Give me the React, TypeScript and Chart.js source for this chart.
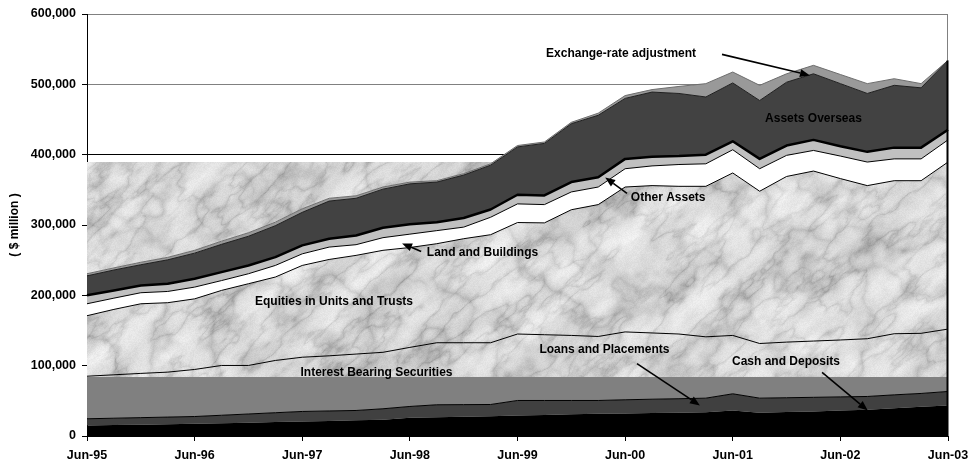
import React, { useEffect, useRef } from "react";
import { Chart, registerables } from "chart.js";

Chart.register(...registerables);

// ---------- DATA ($ million, quarterly) ----------
const quarters = [
  "Jun-95", "Sep-95", "Dec-95", "Mar-96", "Jun-96", "Sep-96", "Dec-96", "Mar-97",
  "Jun-97", "Sep-97", "Dec-97", "Mar-98", "Jun-98", "Sep-98", "Dec-98", "Mar-99",
  "Jun-99", "Sep-99", "Dec-99", "Mar-00", "Jun-00", "Sep-00", "Dec-00", "Mar-01",
  "Jun-01", "Sep-01", "Dec-01", "Mar-02", "Jun-02", "Sep-02", "Dec-02", "Mar-03",
  "Jun-03",
];

const cashDeposits = [15000, 15500, 16000, 16700, 17300, 18000, 19000, 19800, 20600, 21500, 22300, 23000, 25900, 26800, 27500, 28200, 29200, 30000, 30800, 31600, 32000, 32600, 33200, 33900, 36300, 33000, 34000, 35000, 36200, 37300, 39500, 41500, 43400];
const loansPlacements = [9500, 9800, 10100, 10200, 10400, 11500, 12300, 13300, 14300, 14100, 14000, 15700, 16100, 17600, 17100, 16600, 21300, 20500, 19700, 18900, 19500, 19700, 19800, 19900, 23700, 20800, 20400, 20000, 19400, 18900, 19000, 19000, 19900];
const interestBearing = [60500, 61700, 62900, 63900, 66900, 70800, 69000, 74300, 77100, 78400, 80200, 80300, 84000, 88200, 88000, 87800, 94500, 93500, 92500, 91000, 96500, 94200, 92000, 87200, 83000, 77700, 79100, 80000, 80900, 82100, 86900, 85500, 88700];
const equitiesUnitsTrusts = [86000, 93000, 99000, 98700, 100400, 106700, 116200, 118600, 130500, 137000, 140300, 145000, 142000, 140800, 147900, 153600, 158500, 159000, 178700, 187500, 206000, 209500, 210000, 214000, 231000, 216500, 235500, 241700, 229500, 217700, 217600, 217000, 237500];
const landBuildings = [17000, 16000, 15700, 16000, 16700, 14000, 14200, 16500, 16500, 17600, 15200, 18000, 19000, 18600, 16500, 24800, 26500, 26000, 25300, 25000, 26000, 28000, 31000, 32000, 33000, 32000, 30000, 29300, 32000, 33500, 31000, 31000, 31500];
const otherAssets = [12000, 11000, 10300, 11000, 11900, 12000, 11800, 11800, 12000, 11900, 13000, 14000, 14000, 12000, 13000, 11000, 13000, 13000, 14000, 14000, 14000, 13000, 12000, 13000, 12000, 14000, 14000, 15000, 14000, 14500, 16000, 16000, 14500];
const assetsOverseas = [27700, 29000, 29500, 34000, 36400, 39500, 41500, 44700, 47000, 53500, 53000, 55000, 57500, 57000, 61000, 63000, 68000, 74000, 83000, 88000, 86000, 92000, 89000, 82000, 83000, 83000, 90000, 94000, 89000, 83000, 88600, 85000, 98500];
const exchangeRateAdj = [3000, 3000, 3500, 3500, 4000, 4500, 5000, 5000, 5000, 4000, 3500, 3000, 2500, 2000, 2000, 2000, 2000, 2000, 2000, 3000, 4000, 3500, 10000, 19000, 15500, 21600, 12000, 12000, 13000, 14000, 9400, 6000, 0];

const yTicks = [0, 100000, 200000, 300000, 400000, 500000, 600000];
const yTitle = "( $ million )";

// ---------- STYLE ----------
const FONT = '"Liberation Sans", Arial, Helvetica, sans-serif';
const MARBLE_BOTTOM = 84000;
const MARBLE_TOP = 390000;

const seriesStyles = [
  { name: "Cash and Deposits", data: cashDeposits, fill: "#000000", line: "#000000", width: 0 },
  { name: "Loans and Placements", data: loansPlacements, fill: "#404040", line: "#000000", width: 1 },
  { name: "Interest Bearing Securities", data: interestBearing, fill: "#808080", line: "#000000", width: 1 },
  { name: "Equities in Units and Trusts", data: equitiesUnitsTrusts, fill: "rgba(0,0,0,0)", line: "#000000", width: 1 },
  { name: "Land and Buildings", data: landBuildings, fill: "#ffffff", line: "#000000", width: 1 },
  { name: "Other Assets", data: otherAssets, fill: "#c0c0c0", line: "#000000", width: 2.5 },
  { name: "Assets Overseas", data: assetsOverseas, fill: "#424242", line: "#202020", width: 1 },
  { name: "Exchange-rate adjustment", data: exchangeRateAdj, fill: "#999999", line: "#6e6e6e", width: 1 },
];
const EQ_INDEX = 3;
const TOP_INDEX = 7;

// annotations: [quarter index, value]
const annotations: { text: string; at: [number, number]; arrow?: [number, number][]; }[] = [
  { text: "Exchange-rate adjustment", at: [19.85, 544000], arrow: [[23.6, 542600], [26.87, 512700]] },
  { text: "Assets Overseas", at: [27.0, 451600] },
  { text: "Other Assets", at: [21.6, 339300], arrow: [[20.07, 345000], [19.26, 367700]] },
  { text: "Land and Buildings", at: [14.7, 261000], arrow: [[12.42, 262400], [11.71, 273800]] },
  { text: "Equities in Units and Trusts", at: [9.18, 191300] },
  { text: "Interest Bearing Securities", at: [10.76, 90300] },
  { text: "Loans and Placements", at: [19.23, 123000], arrow: [[20.44, 103000], [22.78, 43400]] },
  { text: "Cash and Deposits", at: [25.98, 106000], arrow: [[27.32, 90300], [29.02, 36300]] },
];

// ---------- marble texture (deterministic procedural noise) ----------
function hash2(ix: number, iy: number) {
  let h = Math.imul(ix, 374761393) ^ Math.imul(iy, 668265263);
  h = Math.imul(h ^ (h >>> 13), 1274126177);
  h ^= h >>> 16;
  return (h >>> 0) / 4294967296;
}
function vnoise(x: number, y: number) {
  const ix = Math.floor(x), iy = Math.floor(y);
  const fx = x - ix, fy = y - iy;
  const sx = fx * fx * (3 - 2 * fx), sy = fy * fy * (3 - 2 * fy);
  const a = hash2(ix, iy), b = hash2(ix + 1, iy), c = hash2(ix, iy + 1), d = hash2(ix + 1, iy + 1);
  return a + (b - a) * sx + (c - a) * sy + (a - b - c + d) * sx * sy;
}
function fbm(x: number, y: number, oct: number) {
  let s = 0, amp = 0.5, f = 1, norm = 0;
  for (let i = 0; i < oct; i++) {
    s += amp * vnoise(x * f + i * 17.3, y * f + i * 9.1);
    norm += amp; amp *= 0.5; f *= 2;
  }
  return s / norm;
}
let marbleCache: HTMLCanvasElement | null = null;
function getMarble(w: number, h: number) {
  if (marbleCache && marbleCache.width === w && marbleCache.height === h) return marbleCache;
  const raw = document.createElement("canvas");
  raw.width = w; raw.height = h;
  const g = raw.getContext("2d")!;
  const img = g.createImageData(w, h);
  for (let y = 0; y < h; y++) {
    for (let x = 0; x < w; x++) {
      const u = x * 0.75 - y * 0.66;
      const q = x * 0.66 + y * 0.75;
      const mott = fbm(u / 60 + 11, q / 22 + 5, 5);
      const r1 = fbm(x / 50 + 300, y / 50 + 70, 4);
      const ridge1 = Math.pow(1 - Math.abs(2 * r1 - 1), 7);
      const r2 = fbm(u / 40 + 40, q / 16 + 90, 4);
      const ridge2 = Math.pow(1 - Math.abs(2 * r2 - 1), 9);
      const speck = hash2(x * 3 + 7, y * 5 + 11) - 0.5;
      let v = 252 - 50 * mott - 30 * ridge1 * (0.5 + r2) - 28 * ridge2 * (0.5 + mott) + speck * 10;
      v = Math.max(150, Math.min(252, v));
      const k = (y * w + x) * 4;
      img.data[k] = v; img.data[k + 1] = v; img.data[k + 2] = v; img.data[k + 3] = 255;
    }
  }
  g.putImageData(img, 0, 0);
  const c = document.createElement("canvas");
  c.width = w; c.height = h;
  const g2 = c.getContext("2d")!;
  g2.fillStyle = "#e6e6e6";
  g2.fillRect(0, 0, w, h);
  g2.filter = "blur(0.7px)";
  g2.drawImage(raw, 0, 0);
  marbleCache = c;
  return c;
}

const fmt = (v: number) => String(v).replace(/\B(?=(\d{3})+(?!\d))/g, ",");

export default function App() {
  const ref = useRef<HTMLCanvasElement>(null);

  useEffect(() => {
    document.body.style.margin = "0";
    const cumulative: number[][] = [];
    seriesStyles.forEach((s, si) => {
      cumulative.push(s.data.map((v, i) => v + (si > 0 ? cumulative[si - 1][i] : 0)));
    });

    const datasets = seriesStyles.map((s, si) => ({
      label: s.name,
      data: cumulative[si],
      backgroundColor: s.fill,
      borderColor: s.line,
      borderWidth: s.width,
      fill: si === 0 ? "origin" : si === EQ_INDEX ? false : "-1",
      pointRadius: 0,
      pointHoverRadius: 0,
      tension: 0,
      borderJoinStyle: "round" as const,
    }));

    const marblePlugin = {
      id: "marble",
      beforeDatasetsDraw(chart: any) {
        const { ctx, chartArea: a, scales } = chart;
        const top = Math.round(scales.y.getPixelForValue(MARBLE_TOP));
        const bottom = Math.round(scales.y.getPixelForValue(MARBLE_BOTTOM));
        const w = Math.round(a.right - a.left);
        const eq = chart.getDatasetMeta(EQ_INDEX).data;
        const tp = chart.getDatasetMeta(TOP_INDEX).data;
        ctx.save();
        ctx.beginPath();
        ctx.rect(a.left, top, w, bottom - top);
        ctx.clip();
        ctx.beginPath();
        ctx.rect(a.left - 5, a.top - 5, w + 10, a.bottom - a.top + 10);
        eq.forEach((p: any, i: number) => (i ? ctx.lineTo(p.x, p.y) : ctx.moveTo(p.x, p.y)));
        for (let i = tp.length - 1; i >= 0; i--) ctx.lineTo(tp[i].x, tp[i].y);
        ctx.closePath();
        ctx.clip("evenodd");
        ctx.drawImage(getMarble(w, bottom - top), a.left, top);
        ctx.restore();
      },
    };

    const overlayPlugin = {
      id: "overlay",
      afterDatasetsDraw(chart: any) {
        const { ctx, chartArea: a, scales } = chart;
        const tp = chart.getDatasetMeta(TOP_INDEX).data;
        const last = tp[tp.length - 1];
        const rx = Math.round(a.right) - 0.5;
        ctx.save();
        ctx.lineWidth = 1;
        ctx.strokeStyle = "#808080";
        ctx.beginPath(); ctx.moveTo(rx, a.top); ctx.lineTo(rx, last.y); ctx.stroke();
        ctx.lineWidth = 2;
        ctx.strokeStyle = "#000";
        ctx.beginPath(); ctx.moveTo(rx, last.y); ctx.lineTo(rx, a.bottom); ctx.stroke();

        // annotations
        ctx.font = `bold 12px ${FONT}`;
        ctx.fillStyle = "#000";
        ctx.textAlign = "center";
        ctx.textBaseline = "middle";
        for (const an of annotations) {
          ctx.fillText(an.text, scales.x.getPixelForValue(an.at[0]), scales.y.getPixelForValue(an.at[1]));
          if (an.arrow) {
            const x1 = scales.x.getPixelForValue(an.arrow[0][0]);
            const y1 = scales.y.getPixelForValue(an.arrow[0][1]);
            const x2 = scales.x.getPixelForValue(an.arrow[1][0]);
            const y2 = scales.y.getPixelForValue(an.arrow[1][1]);
            const ang = Math.atan2(y2 - y1, x2 - x1);
            const hl = 10, hw = 4;
            const bx = x2 - hl * Math.cos(ang), by = y2 - hl * Math.sin(ang);
            ctx.strokeStyle = "#000";
            ctx.lineWidth = 1.6;
            ctx.beginPath(); ctx.moveTo(x1, y1); ctx.lineTo(bx, by); ctx.stroke();
            ctx.beginPath();
            ctx.moveTo(x2, y2);
            ctx.lineTo(bx + hw * Math.sin(ang), by - hw * Math.cos(ang));
            ctx.lineTo(bx - hw * Math.sin(ang), by + hw * Math.cos(ang));
            ctx.closePath();
            ctx.fill();
          }
        }
        ctx.restore();
      },
    };

    Chart.defaults.font.family = FONT;
    Chart.defaults.font.weight = "bold" as any;
    Chart.defaults.font.size = 12;
    Chart.defaults.color = "#000";

    const chart = new Chart(ref.current!, {
      type: "line",
      data: { labels: quarters, datasets: datasets as any },
      options: {
        animation: false,
        responsive: false,
        events: [],
        layout: { padding: { left: 0, right: 0, top: 14, bottom: 0 } },
        plugins: {
          legend: { display: false },
          tooltip: { enabled: false },
          filler: { drawTime: "beforeDatasetsDraw", propagate: false },
        } as any,
        scales: {
          x: {
            type: "category",
            offset: false,
            grid: {
              drawOnChartArea: false,
              tickLength: 5,
              tickColor: (c: any) => (c.index % 4 === 0 ? "#000" : "rgba(0,0,0,0)"),
            },
            border: { color: "#000", width: 1 },
            ticks: {
              autoSkip: false,
              maxRotation: 0,
              padding: 7,
              font: { size: 12.5, weight: "bold" },
              callback: (_v: any, i: number) => (i % 4 === 0 ? quarters[i] : ""),
            },
            afterFit: (s: any) => { s.height = 28; s.paddingRight = 21; s.paddingLeft = 0; },
          },
          y: {
            min: 0,
            max: 600000,
            afterBuildTicks: (s: any) => { s.ticks = yTicks.map((v) => ({ value: v })); },
            grid: {
              color: (c: any) => (c.tick && c.tick.value === 400000 ? "#000" : "#808080"),
              tickLength: 5,
              tickColor: "#000",
            },
            border: { color: "#000", width: 1 },
            ticks: {
              padding: 6,
              font: { size: 12.5, weight: "bold" },
              callback: (v: any) => fmt(Number(v)),
            },
            title: {
              display: true,
              text: yTitle,
              font: { size: 12, weight: "bold" },
              padding: { top: 7, bottom: 0 },
            },
            afterFit: (s: any) => { s.width = 87; },
          },
        } as any,
      },
      plugins: [marblePlugin, overlayPlugin],
    });
    return () => chart.destroy();
  }, []);

  return (
    <div style={{ position: "fixed", left: 0, top: 0, width: 969, height: 464, background: "#fff" }}>
      <canvas ref={ref} width={969} height={464} style={{ display: "block" }} />
    </div>
  );
}
